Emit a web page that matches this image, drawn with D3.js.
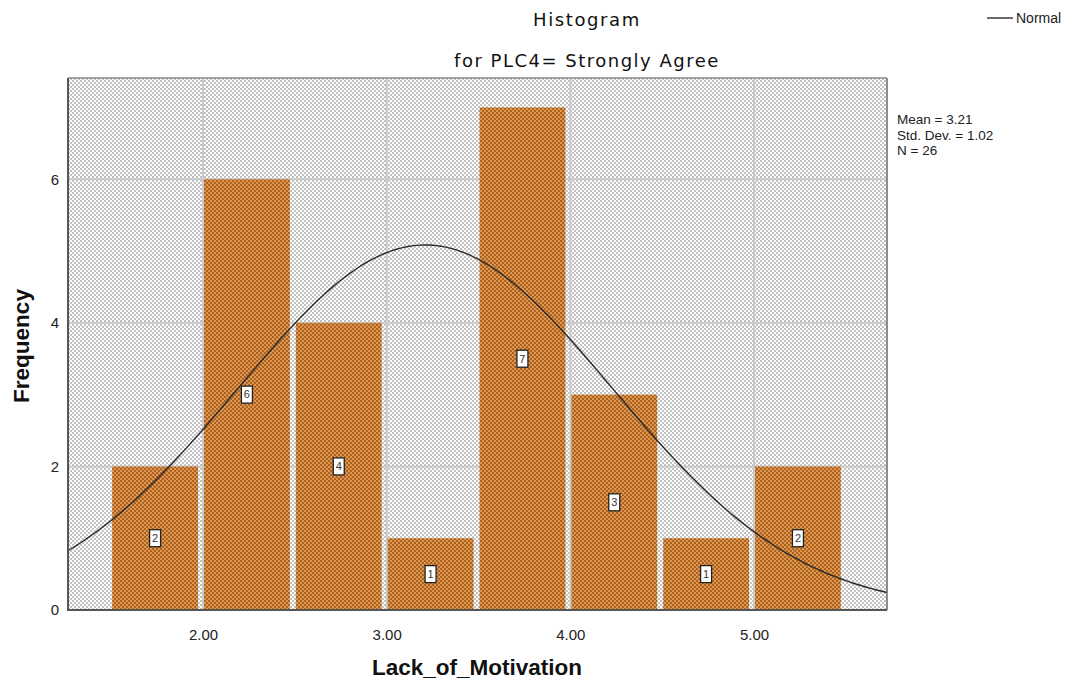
<!DOCTYPE html>
<html>
<head>
<meta charset="utf-8">
<script src="https://cdn.jsdelivr.net/npm/d3@7"></script>
<style>
  html, body { margin: 0; padding: 0; background: #fff; }
  svg { display: block; }
</style>
</head>
<body>
<svg id="chart" width="1068" height="684"></svg>
<script>
// Histogram bins (lower edge of each 0.5-wide bin) and their counts
const binStarts = [1.5, 2.0, 2.5, 3.0, 3.5, 4.0, 4.5, 5.0];
const binWidth = 0.5;
const counts = [2, 6, 4, 1, 7, 3, 1, 2];
const xTicks = [2, 3, 4, 5];
const yTicks = [0, 2, 4, 6];
const statLines = ["Mean = 3.21", "Std. Dev. = 1.02", "N = 26"];
const mean = 3.21, sd = 1.02, n = 26;

const svg = d3.select("#chart");
const plotLeft = 68, plotRight = 887, plotTop = 78, plotBottom = 610;

const x = d3.scaleLinear().domain([1.265, 5.724]).range([plotLeft, plotRight]);
const y = d3.scaleLinear().domain([0, 7.41]).range([plotBottom, plotTop]);

const defs = svg.append("defs");
// Dotted fill for the plot background
const bgPat = defs.append("pattern").attr("id", "bgDots")
  .attr("patternUnits", "userSpaceOnUse").attr("width", 4).attr("height", 4);
bgPat.append("rect").attr("width", 4).attr("height", 4).attr("fill", "#ffffff");
bgPat.append("rect").attr("x", 0).attr("y", 0).attr("width", 2).attr("height", 2).attr("fill", "#c2c2c2");
bgPat.append("rect").attr("x", 2).attr("y", 2).attr("width", 2).attr("height", 2).attr("fill", "#c2c2c2");

// Dotted fill for the bars
const barPat = defs.append("pattern").attr("id", "barDots")
  .attr("patternUnits", "userSpaceOnUse").attr("width", 4).attr("height", 4);
barPat.append("rect").attr("width", 4).attr("height", 4).attr("fill", "#e2964b");
barPat.append("rect").attr("x", 0).attr("y", 0).attr("width", 2).attr("height", 2).attr("fill", "#a86224");
barPat.append("rect").attr("x", 2).attr("y", 2).attr("width", 2).attr("height", 2).attr("fill", "#a86224");

// Plot background
svg.append("rect").attr("x", plotLeft).attr("y", plotTop)
  .attr("width", plotRight - plotLeft).attr("height", plotBottom - plotTop)
  .attr("fill", "url(#bgDots)");

// Grid lines
const grid = svg.append("g").attr("stroke", "#cacaca").attr("stroke-width", 2);
xTicks.forEach(t => grid.append("line")
  .attr("x1", x(t)).attr("x2", x(t)).attr("y1", plotTop).attr("y2", plotBottom));
yTicks.filter(t => t > 0).forEach(t => grid.append("line")
  .attr("x1", plotLeft).attr("x2", plotRight).attr("y1", y(t)).attr("y2", y(t)));

// Bars
svg.append("g").selectAll("rect").data(binStarts).join("rect")
  .attr("x", (d) => x(d) + 1)
  .attr("width", (d) => x(d + binWidth) - x(d) - 6)
  .attr("y", (d, i) => y(counts[i]))
  .attr("height", (d, i) => y(0) - y(counts[i]))
  .attr("fill", "url(#barDots)");

// Normal curve scaled to counts
const pdf = v => n * binWidth * Math.exp(-0.5 * ((v - mean) / sd) ** 2) / (sd * Math.sqrt(2 * Math.PI));
const curveXs = d3.range(0, 201).map(i => x.domain()[0] + (x.domain()[1] - x.domain()[0]) * i / 200);
svg.append("path")
  .attr("d", d3.line().x(v => x(v)).y(v => y(pdf(v)))(curveXs))
  .attr("fill", "none").attr("stroke", "#2a2a2a").attr("stroke-width", 1.4);

// Value labels on the bars
const lab = svg.append("g").selectAll("g").data(binStarts).join("g")
  .attr("transform", (d, i) => `translate(${(x(d) + 1 + x(d + binWidth) - 5) / 2},${y(counts[i] / 2)})`);
lab.append("rect").attr("x", -5.5).attr("y", -8.5).attr("width", 11).attr("height", 17)
  .attr("fill", "#fff").attr("stroke", "#222").attr("stroke-width", 1.3);
lab.append("text").attr("text-anchor", "middle").attr("dy", "0.35em")
  .attr("font-family", "Liberation Sans, Arial, sans-serif").attr("font-size", 11)
  .attr("fill", "#333").text((d, i) => counts[i]);

// Frame
svg.append("line").attr("x1", plotLeft).attr("x2", plotRight).attr("y1", plotTop).attr("y2", plotTop)
  .attr("stroke", "#8a8a8a").attr("stroke-width", 1.5);
svg.append("line").attr("x1", plotRight).attr("x2", plotRight).attr("y1", plotTop).attr("y2", plotBottom)
  .attr("stroke", "#6a6a6a").attr("stroke-width", 1.5);
svg.append("line").attr("x1", plotLeft).attr("x2", plotLeft).attr("y1", plotTop).attr("y2", plotBottom + 1)
  .attr("stroke", "#555", ).attr("stroke-width", 2);
svg.append("line").attr("x1", plotLeft - 1).attr("x2", plotRight).attr("y1", plotBottom).attr("y2", plotBottom)
  .attr("stroke", "#555").attr("stroke-width", 2);

// Axes (labels only)
const xAxis = d3.axisBottom(x).tickValues(xTicks).tickFormat(d3.format(".2f")).tickSize(0).tickPadding(19);
const xg = svg.append("g").attr("transform", `translate(0,${plotBottom})`).call(xAxis);
const yAxis = d3.axisLeft(y).tickValues(yTicks).tickFormat(d3.format("d")).tickSize(0).tickPadding(9);
const yg = svg.append("g").attr("transform", `translate(${plotLeft},0)`).call(yAxis);
[xg, yg].forEach(g => {
  g.select(".domain").remove();
  g.selectAll("text").attr("font-family", "Liberation Sans, Arial, sans-serif")
    .attr("font-size", 15).attr("fill", "#222");
});

// Titles
const titleFont = "DejaVu Sans, Verdana, sans-serif";
svg.append("text").attr("x", 587).attr("y", 26).attr("text-anchor", "middle")
  .attr("font-family", titleFont).attr("font-size", 18).attr("letter-spacing", 1.6)
  .attr("fill", "#111").text("Histogram");
svg.append("text").attr("x", 587).attr("y", 67).attr("text-anchor", "middle")
  .attr("font-family", titleFont).attr("font-size", 18).attr("letter-spacing", 1.5)
  .attr("fill", "#111").text("for PLC4= Strongly Agree");

svg.append("text").attr("x", 477).attr("y", 675).attr("text-anchor", "middle")
  .attr("font-family", "Liberation Sans, Arial, sans-serif").attr("font-weight", "bold")
  .attr("font-size", 22.5).attr("fill", "#111").text("Lack_of_Motivation");
svg.append("text").attr("transform", "translate(29,346) rotate(-90)").attr("text-anchor", "middle")
  .attr("font-family", "Liberation Sans, Arial, sans-serif").attr("font-weight", "bold")
  .attr("font-size", 22.5).attr("fill", "#111").text("Frequency");

// Legend
svg.append("line").attr("x1", 987).attr("x2", 1013).attr("y1", 18).attr("y2", 18)
  .attr("stroke", "#2a2a2a").attr("stroke-width", 1.4);
svg.append("text").attr("x", 1016).attr("y", 23)
  .attr("font-family", "Liberation Sans, Arial, sans-serif").attr("font-size", 14)
  .attr("fill", "#222").text("Normal");

// Summary statistics
svg.append("g").selectAll("text").data(statLines).join("text")
  .attr("x", 897).attr("y", (d, i) => 124 + i * 15.5)
  .attr("font-family", "Liberation Sans, Arial, sans-serif").attr("font-size", 13.5)
  .attr("fill", "#222").text(d => d);
</script>
</body>
</html>
